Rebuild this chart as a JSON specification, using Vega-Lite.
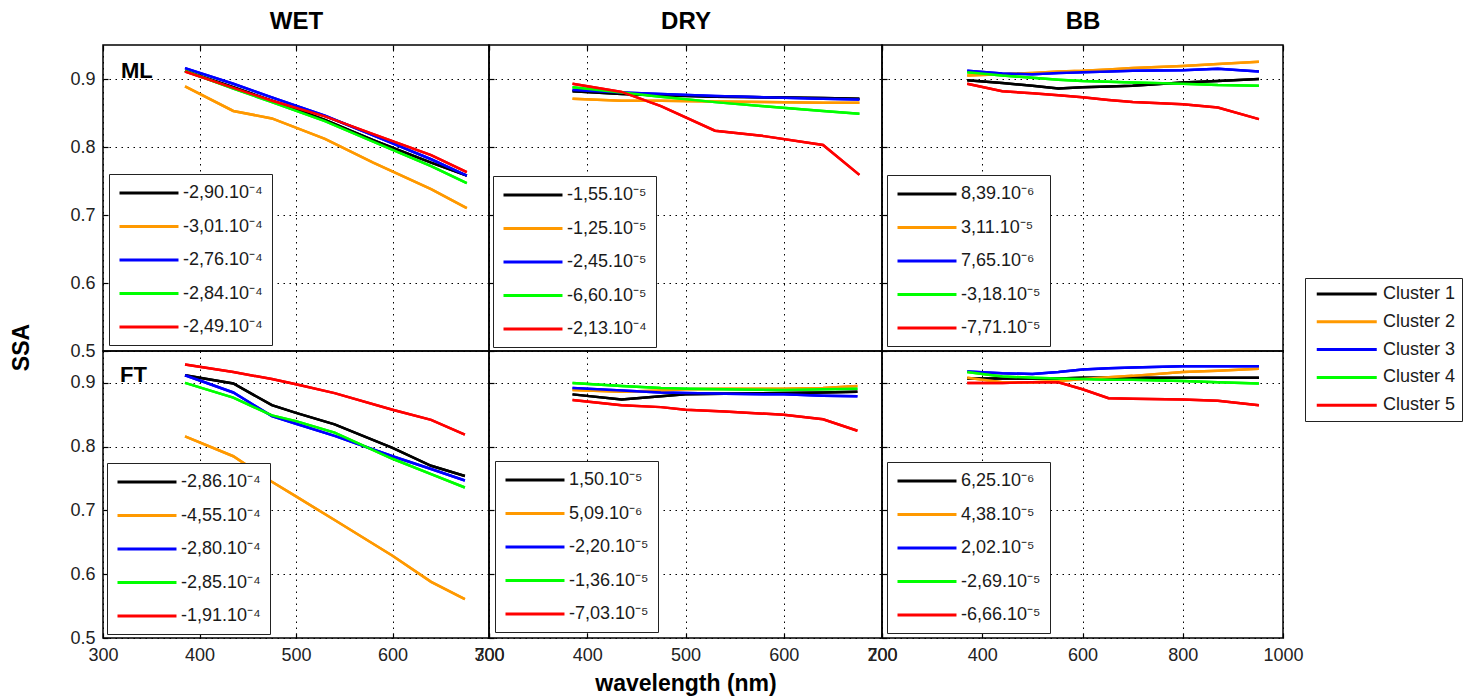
{
  "$schema": "https://vega.github.io/schema/vega-lite/v6.json",
  "padding": {"left": 9, "top": 8, "right": 5, "bottom": 5},
  "config": {
    "font": "Liberation Sans",
    "view": {"stroke": "black", "strokeWidth": 1.5},
    "axis": {"grid": true, "gridColor": "black", "gridDash": [1.5, 4.5], "gridWidth": 1, "domain": false, "ticks": true, "tickSize": -5, "tickColor": "black", "tickWidth": 1.2, "labelFont": "Liberation Sans", "labelFontSize": 18, "labelColor": "#222222", "labelFlush": false, "labelOverlap": false, "labelPadding": 13, "titleFont": "Liberation Sans", "titleFontSize": 23, "titleFontWeight": "bold", "titleColor": "black"},
    "legend": {"labelFont": "Liberation Sans", "labelFontSize": 18, "labelColor": "#1a1a1a", "title": null, "strokeColor": "#222222", "fillColor": "white", "symbolStrokeWidth": 3}
  },
  "datasets": {
    "k": [
      {"g": "WML1", "p": "WET ML", "c": "Cluster 1", "s": "-2,90.10⁻⁴"},
      {"g": "WML2", "p": "WET ML", "c": "Cluster 2", "s": "-3,01.10⁻⁴"},
      {"g": "WML3", "p": "WET ML", "c": "Cluster 3", "s": "-2,76.10⁻⁴"},
      {"g": "WML4", "p": "WET ML", "c": "Cluster 4", "s": "-2,84.10⁻⁴"},
      {"g": "WML5", "p": "WET ML", "c": "Cluster 5", "s": "-2,49.10⁻⁴"},
      {"g": "DML1", "p": "DRY ML", "c": "Cluster 1", "s": "-1,55.10⁻⁵"},
      {"g": "DML2", "p": "DRY ML", "c": "Cluster 2", "s": "-1,25.10⁻⁵"},
      {"g": "DML3", "p": "DRY ML", "c": "Cluster 3", "s": "-2,45.10⁻⁵"},
      {"g": "DML4", "p": "DRY ML", "c": "Cluster 4", "s": "-6,60.10⁻⁵"},
      {"g": "DML5", "p": "DRY ML", "c": "Cluster 5", "s": "-2,13.10⁻⁴"},
      {"g": "BML1", "p": "BB ML", "c": "Cluster 1", "s": "8,39.10⁻⁶"},
      {"g": "BML2", "p": "BB ML", "c": "Cluster 2", "s": "3,11.10⁻⁵"},
      {"g": "BML3", "p": "BB ML", "c": "Cluster 3", "s": "7,65.10⁻⁶"},
      {"g": "BML4", "p": "BB ML", "c": "Cluster 4", "s": "-3,18.10⁻⁵"},
      {"g": "BML5", "p": "BB ML", "c": "Cluster 5", "s": "-7,71.10⁻⁵"},
      {"g": "WFT1", "p": "WET FT", "c": "Cluster 1", "s": "-2,86.10⁻⁴"},
      {"g": "WFT2", "p": "WET FT", "c": "Cluster 2", "s": "-4,55.10⁻⁴"},
      {"g": "WFT3", "p": "WET FT", "c": "Cluster 3", "s": "-2,80.10⁻⁴"},
      {"g": "WFT4", "p": "WET FT", "c": "Cluster 4", "s": "-2,85.10⁻⁴"},
      {"g": "WFT5", "p": "WET FT", "c": "Cluster 5", "s": "-1,91.10⁻⁴"},
      {"g": "DFT1", "p": "DRY FT", "c": "Cluster 1", "s": "1,50.10⁻⁵"},
      {"g": "DFT2", "p": "DRY FT", "c": "Cluster 2", "s": "5,09.10⁻⁶"},
      {"g": "DFT3", "p": "DRY FT", "c": "Cluster 3", "s": "-2,20.10⁻⁵"},
      {"g": "DFT4", "p": "DRY FT", "c": "Cluster 4", "s": "-1,36.10⁻⁵"},
      {"g": "DFT5", "p": "DRY FT", "c": "Cluster 5", "s": "-7,03.10⁻⁵"},
      {"g": "BFT1", "p": "BB FT", "c": "Cluster 1", "s": "6,25.10⁻⁶"},
      {"g": "BFT2", "p": "BB FT", "c": "Cluster 2", "s": "4,38.10⁻⁵"},
      {"g": "BFT3", "p": "BB FT", "c": "Cluster 3", "s": "2,02.10⁻⁵"},
      {"g": "BFT4", "p": "BB FT", "c": "Cluster 4", "s": "-2,69.10⁻⁵"},
      {"g": "BFT5", "p": "BB FT", "c": "Cluster 5", "s": "-6,66.10⁻⁵"}
    ],
    "d": [
      {"g": "WML1", "w": 385, "v": 0.912}, {"g": "WML1", "w": 435, "v": 0.888}, {"g": "WML1", "w": 475, "v": 0.868}, {"g": "WML1", "w": 530, "v": 0.840}, {"g": "WML1", "w": 580, "v": 0.810}, {"g": "WML1", "w": 640, "v": 0.777}, {"g": "WML1", "w": 677, "v": 0.758},
      {"g": "WML2", "w": 385, "v": 0.889}, {"g": "WML2", "w": 435, "v": 0.853}, {"g": "WML2", "w": 475, "v": 0.842}, {"g": "WML2", "w": 530, "v": 0.812}, {"g": "WML2", "w": 580, "v": 0.777}, {"g": "WML2", "w": 640, "v": 0.738}, {"g": "WML2", "w": 677, "v": 0.710},
      {"g": "WML3", "w": 385, "v": 0.916}, {"g": "WML3", "w": 435, "v": 0.893}, {"g": "WML3", "w": 475, "v": 0.873}, {"g": "WML3", "w": 530, "v": 0.846}, {"g": "WML3", "w": 580, "v": 0.817}, {"g": "WML3", "w": 640, "v": 0.782}, {"g": "WML3", "w": 677, "v": 0.758},
      {"g": "WML4", "w": 385, "v": 0.912}, {"g": "WML4", "w": 435, "v": 0.886}, {"g": "WML4", "w": 475, "v": 0.866}, {"g": "WML4", "w": 530, "v": 0.838}, {"g": "WML4", "w": 580, "v": 0.808}, {"g": "WML4", "w": 640, "v": 0.772}, {"g": "WML4", "w": 677, "v": 0.747},
      {"g": "WML5", "w": 385, "v": 0.911}, {"g": "WML5", "w": 435, "v": 0.887}, {"g": "WML5", "w": 475, "v": 0.868}, {"g": "WML5", "w": 530, "v": 0.845}, {"g": "WML5", "w": 580, "v": 0.819}, {"g": "WML5", "w": 640, "v": 0.788}, {"g": "WML5", "w": 677, "v": 0.763},
      {"g": "DML1", "w": 385, "v": 0.882}, {"g": "DML1", "w": 435, "v": 0.878}, {"g": "DML1", "w": 475, "v": 0.876}, {"g": "DML1", "w": 530, "v": 0.874}, {"g": "DML1", "w": 580, "v": 0.873}, {"g": "DML1", "w": 640, "v": 0.872}, {"g": "DML1", "w": 677, "v": 0.871},
      {"g": "DML2", "w": 385, "v": 0.871}, {"g": "DML2", "w": 435, "v": 0.868}, {"g": "DML2", "w": 475, "v": 0.868}, {"g": "DML2", "w": 530, "v": 0.867}, {"g": "DML2", "w": 580, "v": 0.866}, {"g": "DML2", "w": 640, "v": 0.865}, {"g": "DML2", "w": 677, "v": 0.865},
      {"g": "DML3", "w": 385, "v": 0.884}, {"g": "DML3", "w": 435, "v": 0.880}, {"g": "DML3", "w": 475, "v": 0.878}, {"g": "DML3", "w": 530, "v": 0.875}, {"g": "DML3", "w": 580, "v": 0.873}, {"g": "DML3", "w": 640, "v": 0.871}, {"g": "DML3", "w": 677, "v": 0.870},
      {"g": "DML4", "w": 385, "v": 0.888}, {"g": "DML4", "w": 435, "v": 0.880}, {"g": "DML4", "w": 475, "v": 0.874}, {"g": "DML4", "w": 530, "v": 0.866}, {"g": "DML4", "w": 580, "v": 0.860}, {"g": "DML4", "w": 640, "v": 0.853}, {"g": "DML4", "w": 677, "v": 0.849},
      {"g": "DML5", "w": 385, "v": 0.893}, {"g": "DML5", "w": 435, "v": 0.881}, {"g": "DML5", "w": 475, "v": 0.860}, {"g": "DML5", "w": 530, "v": 0.824}, {"g": "DML5", "w": 580, "v": 0.816}, {"g": "DML5", "w": 640, "v": 0.803}, {"g": "DML5", "w": 677, "v": 0.759},
      {"g": "BML1", "w": 370, "v": 0.898}, {"g": "BML1", "w": 440, "v": 0.894}, {"g": "BML1", "w": 500, "v": 0.890}, {"g": "BML1", "w": 552, "v": 0.886}, {"g": "BML1", "w": 600, "v": 0.888}, {"g": "BML1", "w": 652, "v": 0.889}, {"g": "BML1", "w": 700, "v": 0.890}, {"g": "BML1", "w": 800, "v": 0.895}, {"g": "BML1", "w": 870, "v": 0.897}, {"g": "BML1", "w": 952, "v": 0.900},
      {"g": "BML2", "w": 370, "v": 0.905}, {"g": "BML2", "w": 440, "v": 0.907}, {"g": "BML2", "w": 500, "v": 0.909}, {"g": "BML2", "w": 552, "v": 0.911}, {"g": "BML2", "w": 600, "v": 0.912}, {"g": "BML2", "w": 652, "v": 0.914}, {"g": "BML2", "w": 700, "v": 0.916}, {"g": "BML2", "w": 800, "v": 0.919}, {"g": "BML2", "w": 870, "v": 0.922}, {"g": "BML2", "w": 952, "v": 0.9255},
      {"g": "BML3", "w": 370, "v": 0.912}, {"g": "BML3", "w": 440, "v": 0.908}, {"g": "BML3", "w": 500, "v": 0.907}, {"g": "BML3", "w": 552, "v": 0.909}, {"g": "BML3", "w": 600, "v": 0.910}, {"g": "BML3", "w": 652, "v": 0.911}, {"g": "BML3", "w": 700, "v": 0.912}, {"g": "BML3", "w": 800, "v": 0.913}, {"g": "BML3", "w": 870, "v": 0.915}, {"g": "BML3", "w": 952, "v": 0.911},
      {"g": "BML4", "w": 370, "v": 0.910}, {"g": "BML4", "w": 440, "v": 0.905}, {"g": "BML4", "w": 500, "v": 0.902}, {"g": "BML4", "w": 552, "v": 0.899}, {"g": "BML4", "w": 600, "v": 0.897}, {"g": "BML4", "w": 652, "v": 0.896}, {"g": "BML4", "w": 700, "v": 0.895}, {"g": "BML4", "w": 800, "v": 0.893}, {"g": "BML4", "w": 870, "v": 0.891}, {"g": "BML4", "w": 952, "v": 0.890},
      {"g": "BML5", "w": 370, "v": 0.893}, {"g": "BML5", "w": 440, "v": 0.882}, {"g": "BML5", "w": 500, "v": 0.879}, {"g": "BML5", "w": 552, "v": 0.876}, {"g": "BML5", "w": 600, "v": 0.873}, {"g": "BML5", "w": 652, "v": 0.869}, {"g": "BML5", "w": 700, "v": 0.866}, {"g": "BML5", "w": 800, "v": 0.863}, {"g": "BML5", "w": 870, "v": 0.858}, {"g": "BML5", "w": 952, "v": 0.841},
      {"g": "WFT1", "w": 385, "v": 0.912}, {"g": "WFT1", "w": 435, "v": 0.899}, {"g": "WFT1", "w": 475, "v": 0.865}, {"g": "WFT1", "w": 500, "v": 0.853}, {"g": "WFT1", "w": 540, "v": 0.835}, {"g": "WFT1", "w": 600, "v": 0.798}, {"g": "WFT1", "w": 640, "v": 0.770}, {"g": "WFT1", "w": 675, "v": 0.754},
      {"g": "WFT2", "w": 385, "v": 0.816}, {"g": "WFT2", "w": 435, "v": 0.785}, {"g": "WFT2", "w": 475, "v": 0.745}, {"g": "WFT2", "w": 500, "v": 0.722}, {"g": "WFT2", "w": 540, "v": 0.685}, {"g": "WFT2", "w": 600, "v": 0.629}, {"g": "WFT2", "w": 640, "v": 0.588}, {"g": "WFT2", "w": 675, "v": 0.561},
      {"g": "WFT3", "w": 385, "v": 0.912}, {"g": "WFT3", "w": 435, "v": 0.885}, {"g": "WFT3", "w": 475, "v": 0.848}, {"g": "WFT3", "w": 500, "v": 0.836}, {"g": "WFT3", "w": 540, "v": 0.817}, {"g": "WFT3", "w": 600, "v": 0.785}, {"g": "WFT3", "w": 640, "v": 0.765}, {"g": "WFT3", "w": 675, "v": 0.747},
      {"g": "WFT4", "w": 385, "v": 0.900}, {"g": "WFT4", "w": 435, "v": 0.877}, {"g": "WFT4", "w": 475, "v": 0.849}, {"g": "WFT4", "w": 500, "v": 0.840}, {"g": "WFT4", "w": 540, "v": 0.822}, {"g": "WFT4", "w": 600, "v": 0.781}, {"g": "WFT4", "w": 640, "v": 0.757}, {"g": "WFT4", "w": 675, "v": 0.736},
      {"g": "WFT5", "w": 385, "v": 0.929}, {"g": "WFT5", "w": 435, "v": 0.917}, {"g": "WFT5", "w": 475, "v": 0.906}, {"g": "WFT5", "w": 500, "v": 0.898}, {"g": "WFT5", "w": 540, "v": 0.884}, {"g": "WFT5", "w": 600, "v": 0.858}, {"g": "WFT5", "w": 640, "v": 0.842}, {"g": "WFT5", "w": 675, "v": 0.819},
      {"g": "DFT1", "w": 385, "v": 0.882}, {"g": "DFT1", "w": 435, "v": 0.874}, {"g": "DFT1", "w": 475, "v": 0.879}, {"g": "DFT1", "w": 500, "v": 0.882}, {"g": "DFT1", "w": 540, "v": 0.883}, {"g": "DFT1", "w": 600, "v": 0.884}, {"g": "DFT1", "w": 640, "v": 0.885}, {"g": "DFT1", "w": 675, "v": 0.886},
      {"g": "DFT2", "w": 385, "v": 0.889}, {"g": "DFT2", "w": 435, "v": 0.886}, {"g": "DFT2", "w": 475, "v": 0.888}, {"g": "DFT2", "w": 500, "v": 0.890}, {"g": "DFT2", "w": 540, "v": 0.891}, {"g": "DFT2", "w": 600, "v": 0.891}, {"g": "DFT2", "w": 640, "v": 0.892}, {"g": "DFT2", "w": 675, "v": 0.895},
      {"g": "DFT3", "w": 385, "v": 0.892}, {"g": "DFT3", "w": 435, "v": 0.888}, {"g": "DFT3", "w": 475, "v": 0.885}, {"g": "DFT3", "w": 500, "v": 0.884}, {"g": "DFT3", "w": 540, "v": 0.883}, {"g": "DFT3", "w": 600, "v": 0.882}, {"g": "DFT3", "w": 640, "v": 0.880}, {"g": "DFT3", "w": 675, "v": 0.879},
      {"g": "DFT4", "w": 385, "v": 0.900}, {"g": "DFT4", "w": 435, "v": 0.895}, {"g": "DFT4", "w": 475, "v": 0.892}, {"g": "DFT4", "w": 500, "v": 0.891}, {"g": "DFT4", "w": 540, "v": 0.890}, {"g": "DFT4", "w": 600, "v": 0.889}, {"g": "DFT4", "w": 640, "v": 0.890}, {"g": "DFT4", "w": 675, "v": 0.891},
      {"g": "DFT5", "w": 385, "v": 0.873}, {"g": "DFT5", "w": 435, "v": 0.865}, {"g": "DFT5", "w": 475, "v": 0.862}, {"g": "DFT5", "w": 500, "v": 0.858}, {"g": "DFT5", "w": 540, "v": 0.855}, {"g": "DFT5", "w": 600, "v": 0.850}, {"g": "DFT5", "w": 640, "v": 0.843}, {"g": "DFT5", "w": 675, "v": 0.825},
      {"g": "BFT1", "w": 370, "v": 0.907}, {"g": "BFT1", "w": 440, "v": 0.907}, {"g": "BFT1", "w": 500, "v": 0.907}, {"g": "BFT1", "w": 552, "v": 0.907}, {"g": "BFT1", "w": 600, "v": 0.908}, {"g": "BFT1", "w": 652, "v": 0.908}, {"g": "BFT1", "w": 700, "v": 0.908}, {"g": "BFT1", "w": 800, "v": 0.908}, {"g": "BFT1", "w": 870, "v": 0.908}, {"g": "BFT1", "w": 952, "v": 0.908},
      {"g": "BFT2", "w": 370, "v": 0.908}, {"g": "BFT2", "w": 440, "v": 0.901}, {"g": "BFT2", "w": 500, "v": 0.901}, {"g": "BFT2", "w": 552, "v": 0.903}, {"g": "BFT2", "w": 600, "v": 0.906}, {"g": "BFT2", "w": 652, "v": 0.909}, {"g": "BFT2", "w": 700, "v": 0.911}, {"g": "BFT2", "w": 800, "v": 0.917}, {"g": "BFT2", "w": 870, "v": 0.919}, {"g": "BFT2", "w": 952, "v": 0.922},
      {"g": "BFT3", "w": 370, "v": 0.918}, {"g": "BFT3", "w": 440, "v": 0.915}, {"g": "BFT3", "w": 500, "v": 0.914}, {"g": "BFT3", "w": 552, "v": 0.917}, {"g": "BFT3", "w": 600, "v": 0.921}, {"g": "BFT3", "w": 652, "v": 0.923}, {"g": "BFT3", "w": 700, "v": 0.924}, {"g": "BFT3", "w": 800, "v": 0.926}, {"g": "BFT3", "w": 870, "v": 0.926}, {"g": "BFT3", "w": 952, "v": 0.926},
      {"g": "BFT4", "w": 370, "v": 0.917}, {"g": "BFT4", "w": 440, "v": 0.910}, {"g": "BFT4", "w": 500, "v": 0.908}, {"g": "BFT4", "w": 552, "v": 0.907}, {"g": "BFT4", "w": 600, "v": 0.906}, {"g": "BFT4", "w": 652, "v": 0.905}, {"g": "BFT4", "w": 700, "v": 0.905}, {"g": "BFT4", "w": 800, "v": 0.903}, {"g": "BFT4", "w": 870, "v": 0.901}, {"g": "BFT4", "w": 952, "v": 0.899},
      {"g": "BFT5", "w": 370, "v": 0.900}, {"g": "BFT5", "w": 440, "v": 0.900}, {"g": "BFT5", "w": 500, "v": 0.901}, {"g": "BFT5", "w": 552, "v": 0.901}, {"g": "BFT5", "w": 600, "v": 0.890}, {"g": "BFT5", "w": 652, "v": 0.876}, {"g": "BFT5", "w": 700, "v": 0.875}, {"g": "BFT5", "w": 800, "v": 0.874}, {"g": "BFT5", "w": 870, "v": 0.872}, {"g": "BFT5", "w": 952, "v": 0.865}
    ]
  },
  "columns": 3,
  "spacing": 0,
  "bounds": "flush",
  "resolve": {"scale": {"stroke": "independent", "color": "shared"}, "legend": {"stroke": "independent", "color": "shared"}},
  "concat": [
    {
      "width": 386, "height": 306,
      "title": {"text": "ML", "anchor": "start", "frame": "group", "offset": -74, "dx": 18, "fontSize": 22, "fontWeight": "bold", "color": "black"},
      "data": {"name": "d"},
      "transform": [{"lookup": "g", "from": {"data": {"name": "k"}, "key": "g", "fields": ["p", "c", "s"]}}, {"filter": "datum.p == 'WET ML'"}],
      "encoding": {
        "x": {"field": "w", "type": "quantitative", "scale": {"domain": [300, 700], "nice": false, "zero": false}, "axis": {"orient": "top", "values": [300, 400, 500, 600, 700], "labels": false, "title": "WET", "titleFontSize": 24, "titleY": -17, "titleBaseline": "alphabetic"}},
        "y": {"field": "v", "type": "quantitative", "scale": {"domain": [0.5, 0.95], "nice": false, "zero": false}, "axis": {"values": [0.5, 0.6, 0.7, 0.8, 0.9], "format": ".1f", "title": "SSA", "titleX": -82, "titleY": 302, "titleAngle": 270, "titleAlign": "center", "titleBaseline": "middle"}}
      },
      "layer": [
        {"mark": {"type": "line", "strokeWidth": 2.5}, "encoding": {"stroke": {"field": "s", "type": "nominal", "scale": {"domain": ["-2,90.10⁻⁴", "-3,01.10⁻⁴", "-2,76.10⁻⁴", "-2,84.10⁻⁴", "-2,49.10⁻⁴"], "range": ["#000000", "#ff9900", "#0000ff", "#00ff00", "#ff0000"]}, "legend": {"orient": "bottom-left", "offset": 6, "padding": 9, "symbolType": "M-1,0H5.94", "symbolSize": 289, "rowPadding": 14.5, "labelOffset": 45}}}},
        {"mark": {"type": "line", "strokeWidth": 2.5}, "encoding": {"color": {"field": "c", "type": "nominal", "scale": {"domain": ["Cluster 1", "Cluster 2", "Cluster 3", "Cluster 4", "Cluster 5"], "range": ["#000000", "#ff9900", "#0000ff", "#00ff00", "#ff0000"]}, "legend": {"orient": "none", "legendX": 1202, "legendY": 233, "padding": 6, "symbolType": "M-0.5,0H6.56", "symbolSize": 289, "rowPadding": 8.8, "labelOffset": 52}}}}
      ]
    },
    {
      "width": 393, "height": 306,
      "data": {"name": "d"},
      "transform": [{"lookup": "g", "from": {"data": {"name": "k"}, "key": "g", "fields": ["p", "c", "s"]}}, {"filter": "datum.p == 'DRY ML'"}],
      "encoding": {
        "x": {"field": "w", "type": "quantitative", "scale": {"domain": [300, 700], "nice": false, "zero": false}, "axis": {"orient": "top", "values": [300, 400, 500, 600, 700], "labels": false, "title": "DRY", "titleFontSize": 24, "titleY": -17, "titleBaseline": "alphabetic"}},
        "y": {"field": "v", "type": "quantitative", "scale": {"domain": [0.5, 0.95], "nice": false, "zero": false}, "axis": {"values": [0.5, 0.6, 0.7, 0.8, 0.9], "labels": false, "title": null}}
      },
      "layer": [
        {"mark": {"type": "line", "strokeWidth": 2.5}, "encoding": {"stroke": {"field": "s", "type": "nominal", "scale": {"domain": ["-1,55.10⁻⁵", "-1,25.10⁻⁵", "-2,45.10⁻⁵", "-6,60.10⁻⁵", "-2,13.10⁻⁴"], "range": ["#000000", "#ff9900", "#0000ff", "#00ff00", "#ff0000"]}, "legend": {"orient": "bottom-left", "offset": 4, "padding": 9, "symbolType": "M-1,0H5.94", "symbolSize": 289, "rowPadding": 14.5, "labelOffset": 45}}}},
        {"mark": {"type": "line", "strokeWidth": 2.5}, "encoding": {"color": {"field": "c", "type": "nominal", "scale": {"domain": ["Cluster 1", "Cluster 2", "Cluster 3", "Cluster 4", "Cluster 5"], "range": ["#000000", "#ff9900", "#0000ff", "#00ff00", "#ff0000"]}, "legend": {"orient": "none", "legendX": 1202, "legendY": 233, "padding": 6, "symbolType": "M-0.5,0H6.56", "symbolSize": 289, "rowPadding": 8.8, "labelOffset": 52}}}}
      ]
    },
    {
      "width": 401, "height": 306,
      "data": {"name": "d"},
      "transform": [{"lookup": "g", "from": {"data": {"name": "k"}, "key": "g", "fields": ["p", "c", "s"]}}, {"filter": "datum.p == 'BB ML'"}],
      "encoding": {
        "x": {"field": "w", "type": "quantitative", "scale": {"domain": [200, 1000], "nice": false, "zero": false}, "axis": {"orient": "top", "values": [200, 400, 600, 800, 1000], "labels": false, "title": "BB", "titleFontSize": 24, "titleY": -17, "titleBaseline": "alphabetic"}},
        "y": {"field": "v", "type": "quantitative", "scale": {"domain": [0.5, 0.95], "nice": false, "zero": false}, "axis": {"values": [0.5, 0.6, 0.7, 0.8, 0.9], "labels": false, "title": null}}
      },
      "layer": [
        {"mark": {"type": "line", "strokeWidth": 2.5}, "encoding": {"stroke": {"field": "s", "type": "nominal", "scale": {"domain": ["8,39.10⁻⁶", "3,11.10⁻⁵", "7,65.10⁻⁶", "-3,18.10⁻⁵", "-7,71.10⁻⁵"], "range": ["#000000", "#ff9900", "#0000ff", "#00ff00", "#ff0000"]}, "legend": {"orient": "bottom-left", "offset": 5, "padding": 9, "symbolType": "M-1,0H5.94", "symbolSize": 289, "rowPadding": 14.5, "labelOffset": 45}}}},
        {"mark": {"type": "line", "strokeWidth": 2.5}, "encoding": {"color": {"field": "c", "type": "nominal", "scale": {"domain": ["Cluster 1", "Cluster 2", "Cluster 3", "Cluster 4", "Cluster 5"], "range": ["#000000", "#ff9900", "#0000ff", "#00ff00", "#ff0000"]}, "legend": {"orient": "none", "legendX": 1202, "legendY": 233, "padding": 6, "symbolType": "M-0.5,0H6.56", "symbolSize": 289, "rowPadding": 8.8, "labelOffset": 52}}}}
      ]
    },
    {
      "width": 386, "height": 287,
      "title": {"text": "FT", "anchor": "start", "frame": "group", "offset": -35.6, "dx": 17, "fontSize": 22, "fontWeight": "bold", "color": "black"},
      "data": {"name": "d"},
      "transform": [{"lookup": "g", "from": {"data": {"name": "k"}, "key": "g", "fields": ["p", "c", "s"]}}, {"filter": "datum.p == 'WET FT'"}],
      "encoding": {
        "x": {"field": "w", "type": "quantitative", "scale": {"domain": [300, 700], "nice": false, "zero": false}, "axis": {"values": [300, 400, 500, 600, 700], "title": null}},
        "y": {"field": "v", "type": "quantitative", "scale": {"domain": [0.5, 0.95], "nice": false, "zero": false}, "axis": {"values": [0.5, 0.6, 0.7, 0.8, 0.9], "format": ".1f", "title": null}}
      },
      "layer": [
        {"mark": {"type": "line", "strokeWidth": 2.5}, "encoding": {"stroke": {"field": "s", "type": "nominal", "scale": {"domain": ["-2,86.10⁻⁴", "-4,55.10⁻⁴", "-2,80.10⁻⁴", "-2,85.10⁻⁴", "-1,91.10⁻⁴"], "range": ["#000000", "#ff9900", "#0000ff", "#00ff00", "#ff0000"]}, "legend": {"orient": "bottom-left", "offset": 4, "padding": 9, "symbolType": "M-1,0H5.94", "symbolSize": 289, "rowPadding": 14.5, "labelOffset": 45}}}},
        {"mark": {"type": "line", "strokeWidth": 2.5}, "encoding": {"color": {"field": "c", "type": "nominal", "scale": {"domain": ["Cluster 1", "Cluster 2", "Cluster 3", "Cluster 4", "Cluster 5"], "range": ["#000000", "#ff9900", "#0000ff", "#00ff00", "#ff0000"]}, "legend": {"orient": "none", "legendX": 1202, "legendY": 233, "padding": 6, "symbolType": "M-0.5,0H6.56", "symbolSize": 289, "rowPadding": 8.8, "labelOffset": 52}}}}
      ]
    },
    {
      "width": 393, "height": 287,
      "data": {"name": "d"},
      "transform": [{"lookup": "g", "from": {"data": {"name": "k"}, "key": "g", "fields": ["p", "c", "s"]}}, {"filter": "datum.p == 'DRY FT'"}],
      "encoding": {
        "x": {"field": "w", "type": "quantitative", "scale": {"domain": [300, 700], "nice": false, "zero": false}, "axis": {"values": [300, 400, 500, 600, 700], "title": "wavelength (nm)", "titleY": 52, "titleBaseline": "alphabetic"}},
        "y": {"field": "v", "type": "quantitative", "scale": {"domain": [0.5, 0.95], "nice": false, "zero": false}, "axis": {"values": [0.5, 0.6, 0.7, 0.8, 0.9], "labels": false, "title": null}}
      },
      "layer": [
        {"mark": {"type": "line", "strokeWidth": 2.5}, "encoding": {"stroke": {"field": "s", "type": "nominal", "scale": {"domain": ["1,50.10⁻⁵", "5,09.10⁻⁶", "-2,20.10⁻⁵", "-1,36.10⁻⁵", "-7,03.10⁻⁵"], "range": ["#000000", "#ff9900", "#0000ff", "#00ff00", "#ff0000"]}, "legend": {"orient": "bottom-left", "offset": 6, "padding": 9, "symbolType": "M-1,0H5.94", "symbolSize": 289, "rowPadding": 14.5, "labelOffset": 45}}}},
        {"mark": {"type": "line", "strokeWidth": 2.5}, "encoding": {"color": {"field": "c", "type": "nominal", "scale": {"domain": ["Cluster 1", "Cluster 2", "Cluster 3", "Cluster 4", "Cluster 5"], "range": ["#000000", "#ff9900", "#0000ff", "#00ff00", "#ff0000"]}, "legend": {"orient": "none", "legendX": 1202, "legendY": 233, "padding": 6, "symbolType": "M-0.5,0H6.56", "symbolSize": 289, "rowPadding": 8.8, "labelOffset": 52}}}}
      ]
    },
    {
      "width": 401, "height": 287,
      "data": {"name": "d"},
      "transform": [{"lookup": "g", "from": {"data": {"name": "k"}, "key": "g", "fields": ["p", "c", "s"]}}, {"filter": "datum.p == 'BB FT'"}],
      "encoding": {
        "x": {"field": "w", "type": "quantitative", "scale": {"domain": [200, 1000], "nice": false, "zero": false}, "axis": {"values": [200, 400, 600, 800, 1000], "format": "d", "title": null}},
        "y": {"field": "v", "type": "quantitative", "scale": {"domain": [0.5, 0.95], "nice": false, "zero": false}, "axis": {"values": [0.5, 0.6, 0.7, 0.8, 0.9], "labels": false, "title": null}}
      },
      "layer": [
        {"mark": {"type": "line", "strokeWidth": 2.5}, "encoding": {"stroke": {"field": "s", "type": "nominal", "scale": {"domain": ["6,25.10⁻⁶", "4,38.10⁻⁵", "2,02.10⁻⁵", "-2,69.10⁻⁵", "-6,66.10⁻⁵"], "range": ["#000000", "#ff9900", "#0000ff", "#00ff00", "#ff0000"]}, "legend": {"orient": "bottom-left", "offset": 5, "padding": 9, "symbolType": "M-1,0H5.94", "symbolSize": 289, "rowPadding": 14.5, "labelOffset": 45}}}},
        {"mark": {"type": "line", "strokeWidth": 2.5}, "encoding": {"color": {"field": "c", "type": "nominal", "scale": {"domain": ["Cluster 1", "Cluster 2", "Cluster 3", "Cluster 4", "Cluster 5"], "range": ["#000000", "#ff9900", "#0000ff", "#00ff00", "#ff0000"]}, "legend": {"orient": "none", "legendX": 1202, "legendY": 233, "padding": 6, "symbolType": "M-0.5,0H6.56", "symbolSize": 289, "rowPadding": 8.8, "labelOffset": 52}}}}
      ]
    }
  ]
}
